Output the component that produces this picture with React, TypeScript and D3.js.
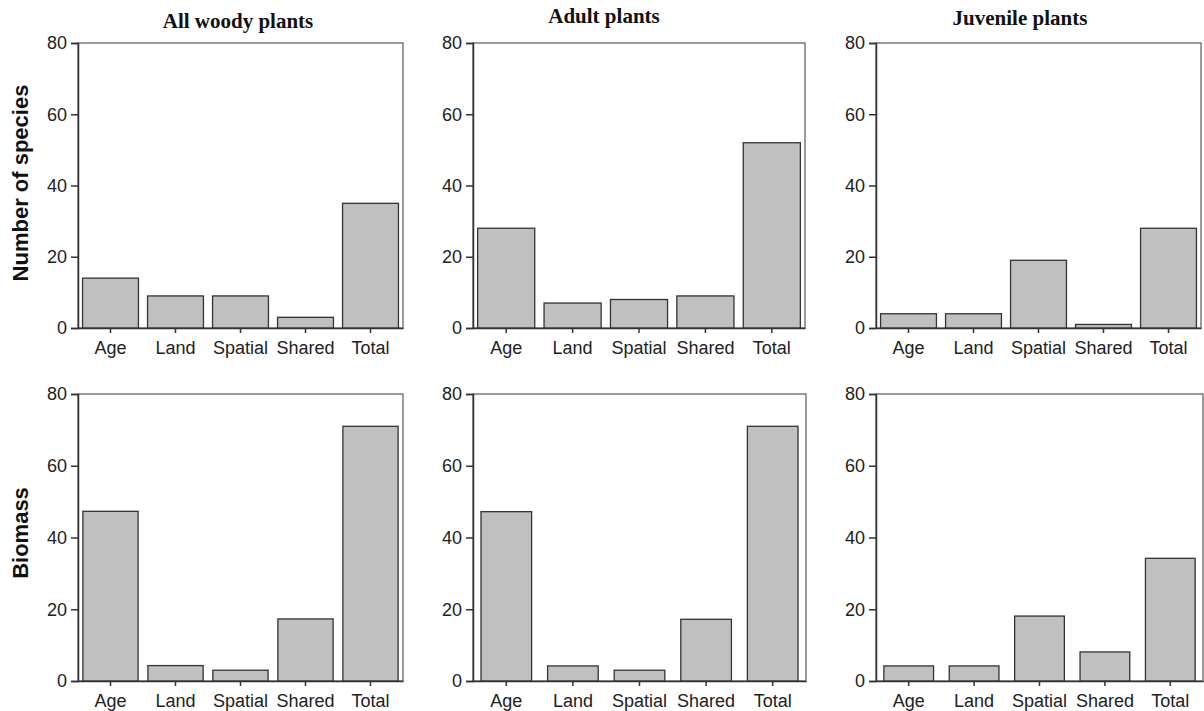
import React, { useEffect, useRef } from 'react';
import * as d3 from 'd3';

const categories = ['Age', 'Land', 'Spatial', 'Shared', 'Total'];
const yTicks = [0, 20, 40, 60, 80];

const speciesAll = [14, 9, 9, 3, 35];
const speciesAdult = [28, 7, 8, 9, 52];
const speciesJuvenile = [4, 4, 19, 1, 28];
const biomassAll = [47.3, 4.3, 3, 17.3, 71];
const biomassAdult = [47.2, 4.2, 3, 17.2, 71];
const biomassJuvenile = [4.2, 4.2, 18.1, 8.1, 34.2];

const columnTitles = ['All woody plants', 'Adult plants', 'Juvenile plants'];
const rowLabels = ['Number of species', 'Biomass'];

const panels = [
  { values: speciesAll, title: 0, x0: 78, x1: 403, y0: 43, y1: 328, pad: 0.14, tx: 238, ty: 28 },
  { values: speciesAdult, title: 1, x0: 473, x1: 805, y0: 43, y1: 328, pad: 0.14, tx: 604, ty: 23 },
  { values: speciesJuvenile, title: 2, x0: 876, x1: 1201, y0: 43, y1: 328, pad: 0.14, tx: 1020, ty: 25 },
  { values: biomassAll, title: -1, x0: 78, x1: 403, y0: 394, y1: 681, pad: 0.15, tx: 0, ty: 0 },
  { values: biomassAdult, title: -1, x0: 473, x1: 806, y0: 394, y1: 681, pad: 0.24, tx: 0, ty: 0 },
  { values: biomassJuvenile, title: -1, x0: 876, x1: 1203, y0: 394, y1: 681, pad: 0.24, tx: 0, ty: 0 },
];

const sans = 'Liberation Sans, Arial, sans-serif';

const App = () => {
  const svgRef = useRef<SVGSVGElement>(null);

  useEffect(() => {
    const svg = d3.select(svgRef.current);
    svg.selectAll('*').remove();

    panels.forEach(p => {
      const x = d3.scaleBand<string>()
        .domain(categories)
        .range([p.x0, p.x1])
        .paddingInner(p.pad)
        .paddingOuter(p.pad / 2);
      const y = d3.scaleLinear().domain([0, 80]).range([p.y1, p.y0]);

      const g = svg.append('g');

      // frame
      g.append('rect')
        .attr('x', p.x0)
        .attr('y', p.y0)
        .attr('width', p.x1 - p.x0)
        .attr('height', p.y1 - p.y0)
        .attr('fill', 'none')
        .attr('stroke', '#666')
        .attr('stroke-width', 1.3);

      g.selectAll('.bar')
        .data(p.values)
        .enter()
        .append('rect')
        .attr('class', 'bar')
        .attr('x', (_, i) => x(categories[i]) as number)
        .attr('y', d => y(d))
        .attr('width', x.bandwidth())
        .attr('height', d => y(0) - y(d))
        .attr('fill', '#c0c0c0')
        .attr('stroke', '#333')
        .attr('stroke-width', 1.3);

      const yAxis = g.append('g')
        .attr('transform', `translate(${p.x0},0)`)
        .call(d3.axisLeft(y).tickValues(yTicks).tickSize(7).tickPadding(4));
      yAxis.select('.domain').attr('stroke', '#333').attr('stroke-width', 1.5);
      yAxis.selectAll('.tick line').attr('stroke', '#333').attr('stroke-width', 1.5);
      yAxis.selectAll('.tick text')
        .attr('fill', '#222')
        .style('font-family', sans)
        .style('font-size', '18px');

      const xAxis = g.append('g')
        .attr('transform', `translate(0,${p.y1})`)
        .call(d3.axisBottom(x).tickSize(5).tickPadding(8).tickSizeOuter(0));
      xAxis.select('.domain').attr('stroke', '#333').attr('stroke-width', 1.5);
      xAxis.selectAll('.tick line').attr('stroke', '#333').attr('stroke-width', 1.5);
      xAxis.selectAll('.tick text')
        .attr('fill', '#222')
        .style('font-family', sans)
        .style('font-size', '18px');

      if (p.title >= 0) {
        svg.append('text')
          .attr('x', p.tx)
          .attr('y', p.ty)
          .attr('text-anchor', 'middle')
          .style('font-family', 'Liberation Serif, Times New Roman, serif')
          .style('font-weight', 'bold')
          .style('font-size', '21px')
          .attr('fill', '#111')
          .text(columnTitles[p.title]);
      }
    });

    rowLabels.forEach((label, i) => {
      const cy = i === 0 ? 183 : 533;
      svg.append('text')
        .attr('transform', `translate(28,${cy}) rotate(-90)`)
        .attr('text-anchor', 'middle')
        .style('font-family', sans)
        .style('font-weight', 'bold')
        .style('font-size', '22px')
        .attr('fill', '#111')
        .text(label);
    });
  }, []);

  return (
    <svg
      ref={svgRef}
      width={1204}
      height={711}
      style={{ position: 'absolute', left: 0, top: 0, background: '#fff' }}
    />
  );
};

export default App;
